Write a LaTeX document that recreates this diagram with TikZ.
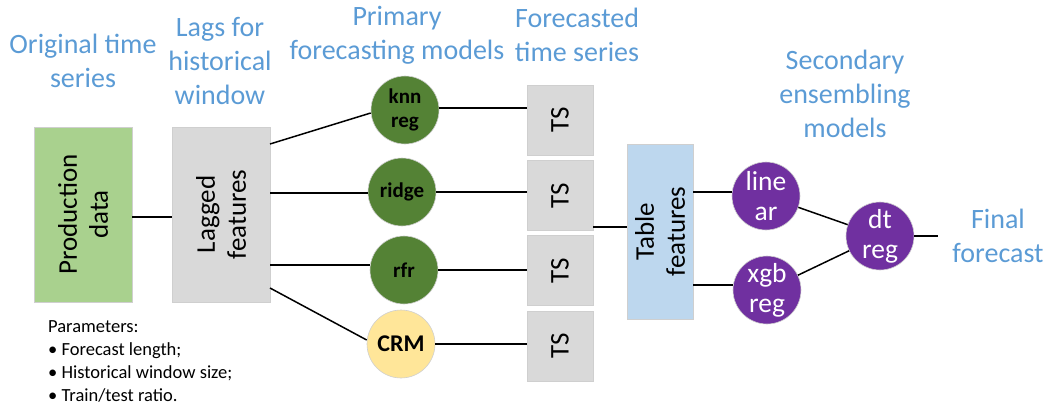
\documentclass[tikz,border=0pt]{standalone}
\usepackage{fontspec}
\setmainfont{Carlito}
\definecolor{lbl}{HTML}{5B9BD5}
\definecolor{prodgreen}{HTML}{A9D18E}
\definecolor{boxgray}{HTML}{D9D9D9}
\definecolor{tblue}{HTML}{BDD7EE}
\definecolor{dgreen}{HTML}{548235}
\definecolor{cyell}{HTML}{FFE699}
\definecolor{purp}{HTML}{7030A0}
\definecolor{edgegray}{HTML}{CFCFCF}
\begin{document}
\begin{tikzpicture}[x=1pt,y=-1pt,
  lab/.style={text=lbl,font=\fontsize{28}{34}\selectfont,align=center},
  bx/.style={draw=edgegray,line width=0.6pt,minimum width=98pt,minimum height=175pt,inner sep=0pt},
  boxtxt/.style={rotate=90,font=\fontsize{27}{31}\selectfont,align=center},
  tsbox/.style={draw=edgegray,line width=0.6pt,fill=boxgray,minimum width=66pt,minimum height=70pt,inner sep=0pt},
  mcirc/.style={circle,draw=edgegray,line width=0.6pt,minimum size=68pt,inner sep=0pt,align=center},
  gmod/.style={mcirc,fill=dgreen,font=\bfseries\fontsize{21}{24}\selectfont},
  pmod/.style={mcirc,fill=purp,text=white,font=\fontsize{27.5}{30}\selectfont},
  conn/.style={line width=1.5pt}]
\useasboundingbox (0,0) rectangle (1047,407);

% labels
\node[lab] (l1) at (83,61) {Original time\\series};
\node[lab] (l2) at (220,61) {Lags for\\historical\\window};
\node[lab] (l3) at (397,35) {Primary\\forecasting models};
\node[lab] (l4) at (577,35) {Forecasted\\time series};
\node[lab] (l5) at (845,94) {Secondary\\ensembling\\models};

% boxes
\node[bx,fill=prodgreen] (prod) at (83,214.5) {};
\node[boxtxt] at (prod.center) {Production\\data};
\node[bx,fill=boxgray] (lag) at (221,214.5) {};
\node[boxtxt] at (lag.center) {Lagged\\features};

% models
\node[gmod] (knn) at (405,110) {knn\\reg};
\node[gmod] (ridge) at (402,192) {ridge};
\node[gmod] (rfr) at (404,270) {rfr};
\node[mcirc,fill=cyell,font=\bfseries\fontsize{24}{28}\selectfont] (crm) at (401,344) {CRM};

% TS boxes
\node[tsbox] (ts1) at (560,120) {};
\node[tsbox] (ts2) at (560,195.5) {};
\node[tsbox] (ts3) at (560,270.5) {};
\node[tsbox] (ts4) at (560,346) {};
\foreach \t in {ts1,ts2,ts3,ts4}{\node[boxtxt] at (\t.center) {TS};}

% table features
\node[draw=edgegray,line width=0.6pt,fill=tblue,minimum width=66pt,minimum height=175pt,inner sep=0pt] (tbl) at (660,231.5) {};
\node[boxtxt] at (tbl.center) {Table\\features};

% secondary
\node[pmod] (lin) at (766,196) {line\\ar};
\node[pmod] (xgb) at (767,290) {xgb\\reg};
\node[pmod] (dt) at (880,236) {dt\\reg};

\node[lab] (fin) at (998,236) {Final\\forecast};
\coordinate (finend) at (938,236);

% connectors
\draw[conn] (prod.east |- 0,217) -- (lag.west |- 0,217);
\draw[conn] (270,144) -- (knn.west |- 0,113) ;
\draw[conn] (lag.east |- 0,193) -- (ridge.west |- 0,193);
\draw[conn] (lag.east |- 0,265) -- (rfr.west |- 0,265);
\draw[conn] (270,288) -- (crm.west |- 0,340);
\draw[conn] (knn.east |- 0,108) -- (ts1.west |- 0,108);
\draw[conn] (ridge.east |- 0,192) -- (ts2.west |- 0,192);
\draw[conn] (rfr.east |- 0,270) -- (ts3.west |- 0,270);
\draw[conn] (crm.east |- 0,344) -- (ts4.west |- 0,344);
\draw[conn] (ts2.east |- 0,227) -- (tbl.west |- 0,227);
\draw[conn] (tbl.east |- 0,192) -- (lin.west |- 0,192);
\draw[conn] (tbl.east |- 0,285) -- (xgb.west |- 0,285);
\draw[conn] (lin) -- (dt);
\draw[conn] (xgb) -- (dt);
\draw[conn] (dt.east) -- (finend);

% parameters
\node[anchor=west,align=left,font=\fontsize{18.5}{22.7}\selectfont,inner sep=0pt] (par) at (48,361.5) {Parameters:\\• Forecast length;\\• Historical window size;\\• Train/test ratio.};
\end{tikzpicture}
\end{document}
